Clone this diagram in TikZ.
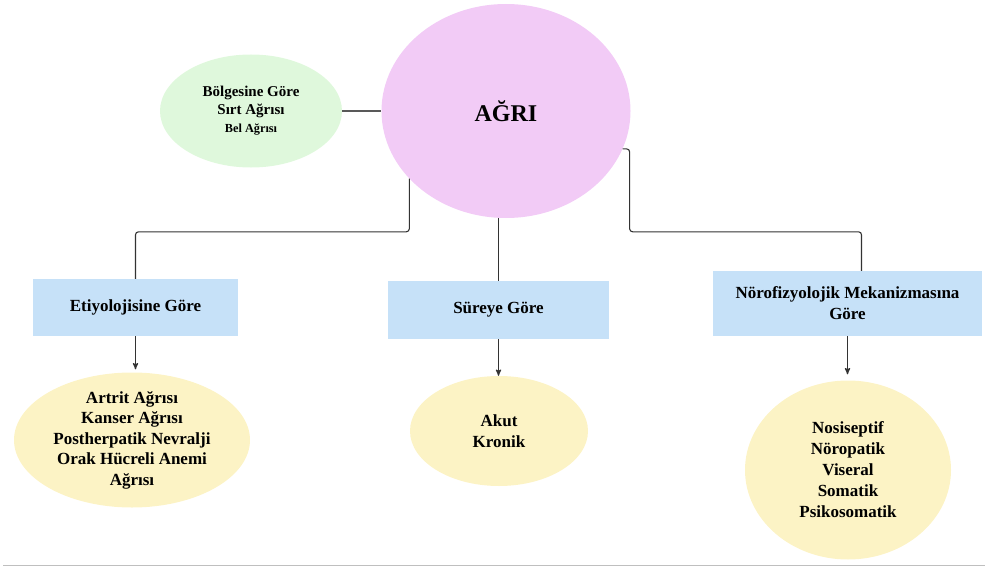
\documentclass[tikz,border=0pt]{standalone}
\usepackage{fontspec}
\setmainfont{Liberation Serif}
\usepackage{tikz}
\usetikzlibrary{arrows,shapes.geometric}
\tikzset{>=stealth'}
\definecolor{agriPembe}{HTML}{F2CBF6}
\definecolor{bolgeYesil}{HTML}{DFF8DC}
\definecolor{turMavi}{HTML}{C6E1F8}
\definecolor{listeSari}{HTML}{FCF3C5}
\definecolor{baglanti}{HTML}{333333}
\tikzset{
  kutu/.style={rectangle,fill=turMavi,inner sep=0pt,align=center,
    font=\fontsize{17}{21}\selectfont\bfseries},
  liste/.style={ellipse,fill=listeSari,inner sep=0pt,align=center,
    font=\fontsize{17}{20.5}\selectfont\bfseries},
  bag/.style={draw=baglanti,line width=1.1pt,rounded corners=3pt},
  ok/.style={draw=baglanti,line width=1.2pt,->},
}

\begin{document}
\begin{tikzpicture}[x=1pt,y=-1pt]
\useasboundingbox (0,0) rectangle (985,567);
% ana kavram ve bolge
\node[ellipse,fill=agriPembe,minimum width=249pt,minimum height=214pt,inner sep=0pt,
  font=\fontsize{24}{28}\selectfont\bfseries] (agri) at (506,111) {AĞRI};
\node[ellipse,fill=bolgeYesil,minimum width=182pt,minimum height=113pt,inner sep=0pt,align=center,
  font=\fontsize{15}{18}\selectfont\bfseries] (bolge) at (251,111)
  {Bölgesine Göre\\Sırt Ağrısı\\{\fontsize{12.3}{16}\selectfont Bel Ağrısı}};
% siniflama kutulari
\node[kutu,minimum width=205pt,minimum height=57pt] (etiyoloji) at (135.5,307.5) {Etiyolojisine Göre};
\node[kutu,minimum width=221pt,minimum height=58pt] (sure) at (498.5,310) {Süreye Göre};
\node[kutu,minimum width=269pt,minimum height=65pt] (norofiz) at (847.5,303.5) {Nörofizyolojik Mekanizmasına\\Göre};
% alt listeler
\node[liste,minimum width=236pt,minimum height=135pt,inner ysep=-2pt] (etiyolojiliste) at (132,440)
  {Artrit Ağrısı\\Kanser Ağrısı\\Postherpatik Nevralji\\Orak Hücreli Anemi\\Ağrısı};
\node[liste,minimum width=178pt,minimum height=110pt] (sureliste) at (499,431) {Akut\\Kronik};
\node[liste,minimum width=206pt,minimum height=179pt,font=\fontsize{17}{21}\selectfont\bfseries] (noroliste) at (848,470)
  {Nosiseptif\\Nöropatik\\Viseral\\Somatik\\Psikosomatik};
% baglantilar
\draw[draw=black!65,line width=1.6pt] (bolge.east) -- (agri.west);
\draw[bag] (agri.215) |- ([yshift=47pt]etiyoloji.north) -- (etiyoloji.north);
\draw[bag] (sure.north |- agri.south) -- (sure.north);
\draw[bag] (agri.342) -- ++(7,0) |- ([xshift=14pt,yshift=39pt]norofiz.north) -- ([xshift=14pt]norofiz.north);
\draw[ok,shorten >=3pt] (etiyoloji.south) -- (etiyoloji.south |- etiyolojiliste.north);
\draw[ok] (sure.south) -- (sure.south |- sureliste.north);
\draw[ok,shorten >=6pt] (norofiz.south) -- (norofiz.south |- noroliste.north);
\draw[gray!50,line width=1.5pt] (3,565.5) -- (985,565.5);
\end{tikzpicture}
\end{document}
